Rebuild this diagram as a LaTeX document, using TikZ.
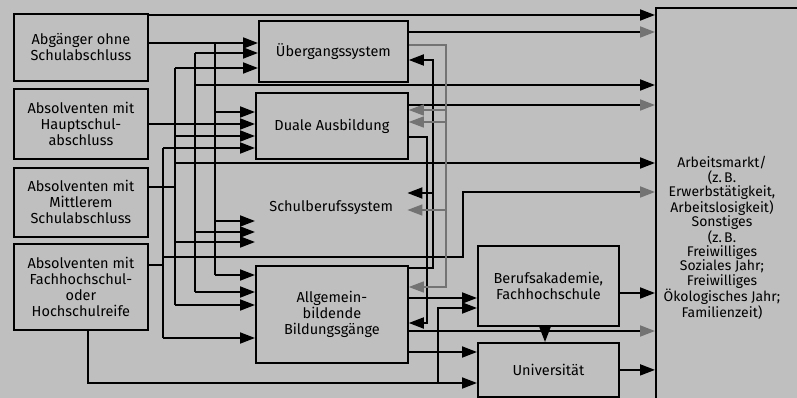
\documentclass[tikz,border=0pt]{standalone}
\usepackage{fontspec}
\setmainfont{Fira Sans}
\usetikzlibrary{arrows.meta, positioning, calc}

\begin{document}
\begin{tikzpicture}[
    x=1pt, y=-1pt,
    every node/.style={font=\fontsize{14.5}{16}\selectfont, align=center, inner sep=0pt},
    box/.style={draw, line width=1.8pt, anchor=north west},
    >={Triangle[length=15pt, width=11pt]},
    flow/.style={->, line width=1.8pt},
    pale/.style={-{Triangle[length=15pt, width=11pt, color=black!55]}, line width=1.8pt},
    light/.style={-{Triangle[length=15pt, width=11pt]}, line width=1.4pt, draw=black!55}
  ]
  \fill[black!25] (0,0) rectangle (797,398);
  \useasboundingbox (0,0) rectangle (797,398);

  % Schulabgaenger
  \node[box, minimum width=134pt, minimum height=67pt] (b1) at (13,13) {Abgänger ohne\\Schulabschluss};
  \node[box, minimum width=134pt, minimum height=70pt] (b2) at (13,88) {Absolventen mit\\Hauptschul-\\abschluss};
  \node[box, minimum width=134pt, minimum height=69pt] (b3) at (13,167) {Absolventen mit\\Mittlerem\\Schulabschluss};
  \node[box, minimum width=134pt, minimum height=86pt] (b4) at (13,243) {Absolventen mit\\Fachhochschul-\\oder\\Hochschulreife};

  % Ausbildung
  \node[box, minimum width=149pt, minimum height=61pt] (ueb) at (258,20) {Übergangssystem};
  \node[box, minimum width=152pt, minimum height=66pt] (dual) at (255,92) {Duale Ausbildung};
  \node[anchor=north west, minimum width=152pt, minimum height=74pt] (schul) at (255,170) {Schulberufssystem};
  \node[box, minimum width=152pt, minimum height=97pt] (allg) at (255,265) {Allgemein-\\bildende\\Bildungsgänge};
  \node[box, minimum width=141pt, minimum height=80pt] (beruf) at (477,245) {Berufsakademie,\\Fachhochschule};
  \node[box, minimum width=141pt, minimum height=54pt] (uni) at (477,342) {Universität};
  \node[box, minimum width=150pt, minimum height=398pt] (arbeit) at (655,7) {};
  \node[font=\fontsize{14}{14.3}\selectfont] (arbtext) at (722,238) {Arbeitsmarkt/\\(z.\,B.\\Erwerbstätigkeit,\\Arbeitslosigkeit)\\Sonstiges\\(z.\,B.\\Freiwilliges\\Soziales Jahr;\\Freiwilliges\\Ökologisches Jahr;\\Familienzeit)};

  \coordinate (ta) at (215,0);
  \coordinate (tb) at (195,0);
  \coordinate (tc) at (175,0);
  \coordinate (td) at (163,0);
  \coordinate (ra) at (427,0);
  \coordinate (rb) at (433,0);
  \coordinate (rg) at (446,0);
  \coordinate (rw) at (463,0);
  \coordinate (bu) at (438,0);
  \coordinate (bl) at (88,383);

  % ohne Abschluss
  \draw[flow] (b1.east |- 0,15) -- (arbeit.west |- 0,15);
  \draw[flow] (b1.east |- 0,43) -- (ueb.west |- 0,43);
  \draw[line width=1.8pt] (ta |- 0,43) -- (ta |- 0,275);
  \foreach \y/\to in {112/dual, 221/schul, 275/allg}
    \draw[flow] (ta |- 0,\y) -- (\to.west |- 0,\y);

  % Hauptschulabschluss
  \draw[flow] (b2.east |- 0,124) -- (dual.west |- 0,124);
  \draw[line width=1.8pt] (tb |- 0,53) -- (tb |- 0,292);
  \foreach \y/\to in {53/ueb, 85/arbeit, 232/schul, 292/allg}
    \draw[flow] (tb |- 0,\y) -- (\to.west |- 0,\y);

  % Mittlerer Abschluss
  \draw[line width=1.8pt] (b3.east |- 0,187) -- (tc |- 0,187);
  \draw[line width=1.8pt] (tc |- 0,68) -- (tc |- 0,305);
  \foreach \y/\to in {68/ueb, 136/dual, 163/arbeit, 242/schul, 305/allg}
    \draw[flow] (tc |- 0,\y) -- (\to.west |- 0,\y);

  % Hochschulreife
  \draw[line width=1.8pt] (b4.east |- 0,265) -- (td |- 0,265);
  \draw[line width=1.8pt] (td |- 0,148) -- (td |- 0,338);
  \foreach \y/\to in {148/dual, 338/allg}
    \draw[flow] (td |- 0,\y) -- (\to.west |- 0,\y);
  \draw[pale] (td |- 0,257) -- (rw |- 0,257) -- (rw |- 0,192) -- (arbeit.west |- 0,192);
  \draw[flow] (b4.south -| bl) -- (bl) -- (uni.west |- bl);
  \draw[flow] (bu |- bl) -- (bu |- 0,308) -- (beruf.west |- 0,308);

  % Uebergaenge nach rechts
  \draw[pale] (ueb.east |- 0,32) -- (arbeit.west |- 0,32);
  \draw[pale] (dual.east |- 0,105) -- (arbeit.west |- 0,105);
  \draw[flow] (allg.east |- 0,298) -- (beruf.west |- 0,298);
  \draw[pale] (allg.east |- 0,331) -- (arbeit.west |- 0,331);
  \draw[flow] (allg.east |- 0,352) -- (uni.west |- 0,352);
  \draw[flow] (beruf.east |- 0,293) -- (arbeit.west |- 0,293);
  \draw[flow] (uni.east) -- (arbeit.west |- uni.east);
  \draw[flow] (beruf.south -| 545,0) -- (uni.north -| 545,0);

  % Rueckfluesse
  \draw[flow] (dual.east |- 0,137) -- (ra |- 0,137) -- (ra |- 0,323) -- (allg.east |- 0,323);
  \draw[flow] (allg.east |- 0,268) -- (rb |- 0,268) -- (rb |- 0,60) -- (ueb.east |- 0,60);
  \draw[flow] (rb |- 0,193) -- (schul.east |- 0,193);
  \draw[light] (ueb.east |- 0,45) -- (rg |- 0,45) -- (rg |- 0,287) -- (allg.east |- 0,287);
  \foreach \y/\to in {110/dual, 122/dual, 210/schul}
    \draw[light] (rg |- 0,\y) -- (\to.east |- 0,\y);
\end{tikzpicture}
\end{document}
